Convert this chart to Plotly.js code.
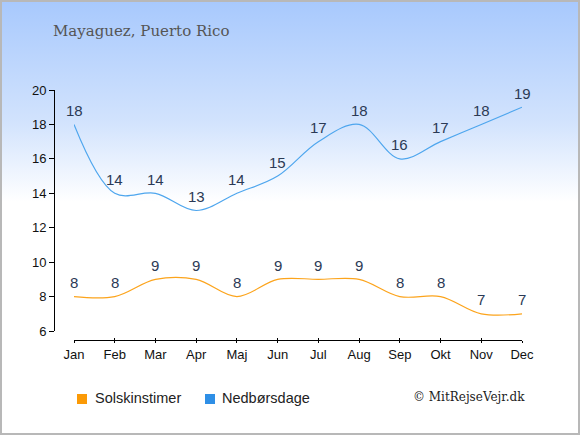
<!DOCTYPE html>
<html>
<head>
<meta charset="utf-8">
<script src="https://cdn.plot.ly/plotly-3.0.1.min.js"></script>
<style>
html,body{margin:0;padding:0;}
#wrap{position:relative;width:580px;height:435px;box-sizing:border-box;border:2px solid #b8b8b8;
background:linear-gradient(to bottom,#a8c9fd 0px,#d2e3fd 120px,#ffffff 200px,#ffffff 435px);}
#chart{position:absolute;left:-2px;top:-2px;width:580px;height:435px;}
</style>
</head>
<body>
<div id="wrap"><div id="chart"></div></div>
<script>
const months = ["Jan","Feb","Mar","Apr","Maj","Jun","Jul","Aug","Sep","Okt","Nov","Dec"];
const sunHours = [8,8,9,9,8,9,9,9,8,8,7,7];
const rainDays = [18,14,14,13,14,15,17,18,16,17,18,19];
const yTicks = [6,8,10,12,14,16,18,20];
const titleText = "Mayaguez, Puerto Rico";
const legendNames = ["Solskinstimer","Nedbørsdage"];
const legendColors = ["#fb9a06","#2f8fe6"];
const copyright = "© MitRejseVejr.dk";

const sans = "Liberation Sans, Arial, sans-serif";
const serif = "DejaVu Serif, Georgia, serif";
const labelFont = {family:sans, size:15, color:"#2b3a55"};

const traces = [
  {x:months, y:sunHours, mode:"lines", line:{color:"#fca41c", width:1.2, shape:"spline", smoothing:1}, name:legendNames[0], hoverinfo:"skip"},
  {x:months, y:rainDays, mode:"lines", line:{color:"#4ea6ee", width:1.2, shape:"spline", smoothing:1}, name:legendNames[1], hoverinfo:"skip"},
  {x:months, y:rainDays, xaxis:"x2", mode:"none", hoverinfo:"skip", showlegend:false}
];

// paper coordinate helpers (plot area: x 54..522 px, y 90..340 px)
const px = v => (v-54)/468;
const py = v => (340-v)/250;

const annotations = [];
[sunHours, rainDays].forEach(series => {
  series.forEach((v,i) => annotations.push({x:months[i], y:v, xref:"x", yref:"y", text:String(v),
    showarrow:false, yanchor:"middle", xanchor:"center", yshift:14, font:labelFont}));
});
annotations.push(
  {xref:"paper", yref:"paper", x:px(51), y:py(31), xanchor:"left", yanchor:"middle", showarrow:false,
   text:titleText, font:{family:serif, size:15, color:"#555"}},
  {xref:"paper", yref:"paper", x:px(93), y:py(398), xanchor:"left", yanchor:"middle", showarrow:false,
   text:legendNames[0], font:{family:sans, size:14.5, color:"#222"}},
  {xref:"paper", yref:"paper", x:px(220), y:py(398), xanchor:"left", yanchor:"middle", showarrow:false,
   text:legendNames[1], font:{family:sans, size:14.5, color:"#222"}},
  {xref:"paper", yref:"paper", x:px(527), y:py(397), xanchor:"right", yanchor:"middle", showarrow:false,
   text:copyright, font:{family:serif, size:12, color:"#222"}}
);

const shapes = legendColors.map((c,i) => ({type:"rect", xref:"paper", yref:"paper",
  x0:px(i===0?77:205), x1:px(i===0?87:215), y0:py(404), y1:py(394), fillcolor:c, line:{width:0}}));

const xCommon = {domain:[20/468,1], range:[0,11], type:"category", anchor:"free", position:0,
  showgrid:false, zeroline:false, tickcolor:"#000"};

const layout = {
  width:580, height:435,
  paper_bgcolor:"rgba(0,0,0,0)", plot_bgcolor:"rgba(0,0,0,0)",
  margin:{l:54, r:58, t:90, b:95},
  showlegend:false,
  xaxis:Object.assign({}, xCommon, {showline:true, linecolor:"#000", linewidth:1, ticks:"outside", ticklen:2,
    tickfont:{family:sans, size:13, color:"#111"}}),
  xaxis2:Object.assign({}, xCommon, {overlaying:"x", side:"bottom", showline:false, ticks:"inside", ticklen:2,
    showticklabels:false}),
  yaxis:{domain:[9/250,1], range:[6,20], tickvals:yTicks, anchor:"free", position:0,
    showline:true, linecolor:"#000", linewidth:1, ticks:"outside", ticklen:5, tickcolor:"#000",
    showgrid:false, zeroline:false, tickfont:{family:sans, size:13, color:"#111"}},
  annotations:annotations,
  shapes:shapes
};
Plotly.newPlot("chart", traces, layout, {displayModeBar:false, staticPlot:true});
</script>
</body>
</html>
